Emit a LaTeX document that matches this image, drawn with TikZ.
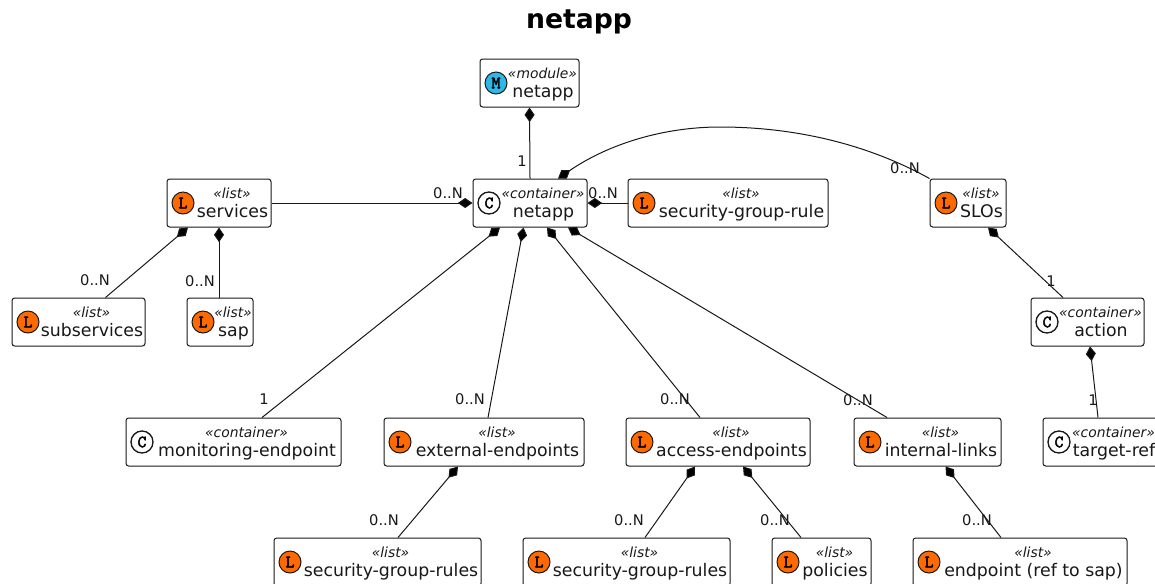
\documentclass[tikz,border=0pt]{standalone}
\usepackage{fontspec}
\setmainfont{DejaVu Sans}
\newfontfamily\iconfont[FakeBold=2.5]{Latin Modern Mono}
\usetikzlibrary{arrows.meta}
\definecolor{umlline}{HTML}{181818}
\definecolor{listicon}{HTML}{FF6A00}
\definecolor{moduleicon}{HTML}{2DB8E8}
\tikzset{
	umlbox/.style = {draw = umlline , fill = white , rounded corners = 2pt , line width = .75pt , minimum height = 36pt , inner sep = 0pt},
	icon/.style = {circle , draw = umlline , line width = .75pt , minimum size = 16.5pt , inner sep = 0pt , font = \iconfont\fontsize{13}{13}\selectfont},
	iconlist/.style = {icon , fill = listicon},
	iconmodule/.style = {icon , fill = moduleicon},
	iconcontainer/.style = {icon , fill = white , line width = 1pt},
	stereo/.style = {font = \itshape\fontsize{10.4}{12}\selectfont , text = umlline , inner sep = 0pt},
	boxname/.style = {font = \fontsize{13}{15}\selectfont , text = umlline , inner sep = 0pt},
	mult/.style = {font = \fontsize{11}{13}\selectfont , text = umlline , inner sep = 0pt},
	comp/.style = {draw = umlline , line width = .75pt},
	compstart/.style = {comp , {Diamond[length = 11pt , width = 7.5pt , fill = black]}-},
	compend/.style = {comp , -{Diamond[length = 11pt , width = 7.5pt , fill = black]}}
}
% #1 name, #2 centre, #3 width, #4 icon style, #5 letter, #6 stereotype, #7 text
\newcommand{\umlnode}[7]{
	\node[umlbox , minimum width = #3*.75pt] (#1) at (#2) {};
	\node[#4] (#1icon) at ([shift = {(16.5,0)}]#1.west) {#5};
	\node[stereo , anchor = base] (#1stereo) at ([shift = {(13,-5)}]#1.center) {«#6»};
	\node[boxname , anchor = base] (#1name) at ([shift = {(13.5,14)}]#1.center) {#7};
}
\begin{document}
\begin{tikzpicture}[x = .75pt , y = -.75pt]
	\useasboundingbox (0,0) rectangle (1155,583);
	\node[font = \bfseries\fontsize{20}{24}\selectfont] (title) at (579,22) {netapp};

	\umlnode{modnetapp}{529.5,83}{99}{iconmodule}{M}{module}{netapp}
	\umlnode{netapp}{530,203}{114}{iconcontainer}{C}{container}{netapp}
	\umlnode{services}{219,203}{104}{iconlist}{L}{list}{services}
	\umlnode{sgrule}{728,203}{200}{iconlist}{L}{list}{security-group-rule}
	\umlnode{slos}{968,203}{76}{iconlist}{L}{list}{SLOs}
	\umlnode{subservices}{78.5,322}{133}{iconlist}{L}{list}{subservices}
	\umlnode{sap}{220,322}{66}{iconlist}{L}{list}{sap}
	\umlnode{action}{1087.5,322}{113}{iconcontainer}{C}{container}{action}
	\umlnode{monitoring}{233.5,442}{215}{iconcontainer}{C}{container}{monitoring-endpoint}
	\umlnode{external}{484,442}{200}{iconlist}{L}{list}{external-endpoints}
	\umlnode{access}{718,442}{184}{iconlist}{L}{list}{access-endpoints}
	\umlnode{internal}{927.5,442}{147}{iconlist}{L}{list}{internal-links}
	\umlnode{target}{1100.5,442}{115}{iconcontainer}{C}{container}{target-ref}
	\umlnode{extrules}{377.5,562}{207}{iconlist}{L}{list}{security-group-rules}
	\umlnode{accrules}{626.5,562}{207}{iconlist}{L}{list}{security-group-rules}
	\umlnode{policies}{821.5,562}{99}{iconlist}{L}{list}{policies}
	\umlnode{endpoint}{1020,562}{214}{iconlist}{L}{list}{endpoint (ref to sap)}

	\coordinate (slotop) at (720,127);
	\draw[compstart] (modnetapp.south) -- (netapp.north);
	\draw[compend] (services.east) -- (netapp.west);
	\draw[compend] (sgrule.west) -- (netapp.east);
	\draw[compstart] ([shift = {(28,0)}]netapp.north) .. controls (610,143) and (665,127) .. (slotop) .. controls (785,127) and (860,140) .. (slos.north west);
	\draw[compstart] ([shift = {(-31,0)}]services.south) -- ([shift = {(27,0)}]subservices.north);
	\draw[compstart] (services.south) -- ([shift = {(-1,0)}]sap.north);
	\draw[compstart] ([shift = {(-30,0)}]netapp.south) -- ([shift = {(28.5,0)}]monitoring.north);
	\draw[compstart] ([shift = {(-6.5,0)}]netapp.south) -- ([shift = {(4,0)}]external.north);
	\draw[compstart] ([shift = {(17,0)}]netapp.south) -- ([shift = {(-18,0)}]access.north);
	\draw[compstart] ([shift = {(38,0)}]netapp.south) -- ([shift = {(-40.5,0)}]internal.north);
	\draw[compstart] ([shift = {(20,0)}]slos.south) -- ([shift = {(-24.5,0)}]action.north);
	\draw[compstart] ([shift = {(2.5,0)}]action.south) -- ([shift = {(-2.5,0)}]target.north);
	\draw[compstart] ([shift = {(-26,0)}]external.south) -- ([shift = {(20.5,0)}]extrules.north);
	\draw[compstart] ([shift = {(-23,0)}]access.south) -- ([shift = {(18.5,0)}]accrules.north);
	\draw[compstart] ([shift = {(25,0)}]access.south) -- ([shift = {(-20.5,0)}]policies.north);
	\draw[compstart] ([shift = {(18,0)}]internal.south) -- ([shift = {(-19,0)}]endpoint.north);

	\node[mult] (m1) at (522,161) {1};
	\node[mult] (m2) at (448,193) {0..N};
	\node[mult] (m3) at (603,193) {0..N};
	\node[mult] (m4) at (905,168) {0..N};
	\node[mult] (m5) at (95,280) {0..N};
	\node[mult] (m6) at (200,281) {0..N};
	\node[mult] (m7) at (264,399) {1};
	\node[mult] (m8) at (470,399) {0..N};
	\node[mult] (m9) at (675,399) {0..N};
	\node[mult] (m10) at (858,400) {0..N};
	\node[mult] (m11) at (1051,281) {1};
	\node[mult] (m12) at (1093,400) {1};
	\node[mult] (m13) at (384,520) {0..N};
	\node[mult] (m14) at (629,520) {0..N};
	\node[mult] (m15) at (775,520) {0..N};
	\node[mult] (m16) at (977,520) {0..N};
\end{tikzpicture}
\end{document}
